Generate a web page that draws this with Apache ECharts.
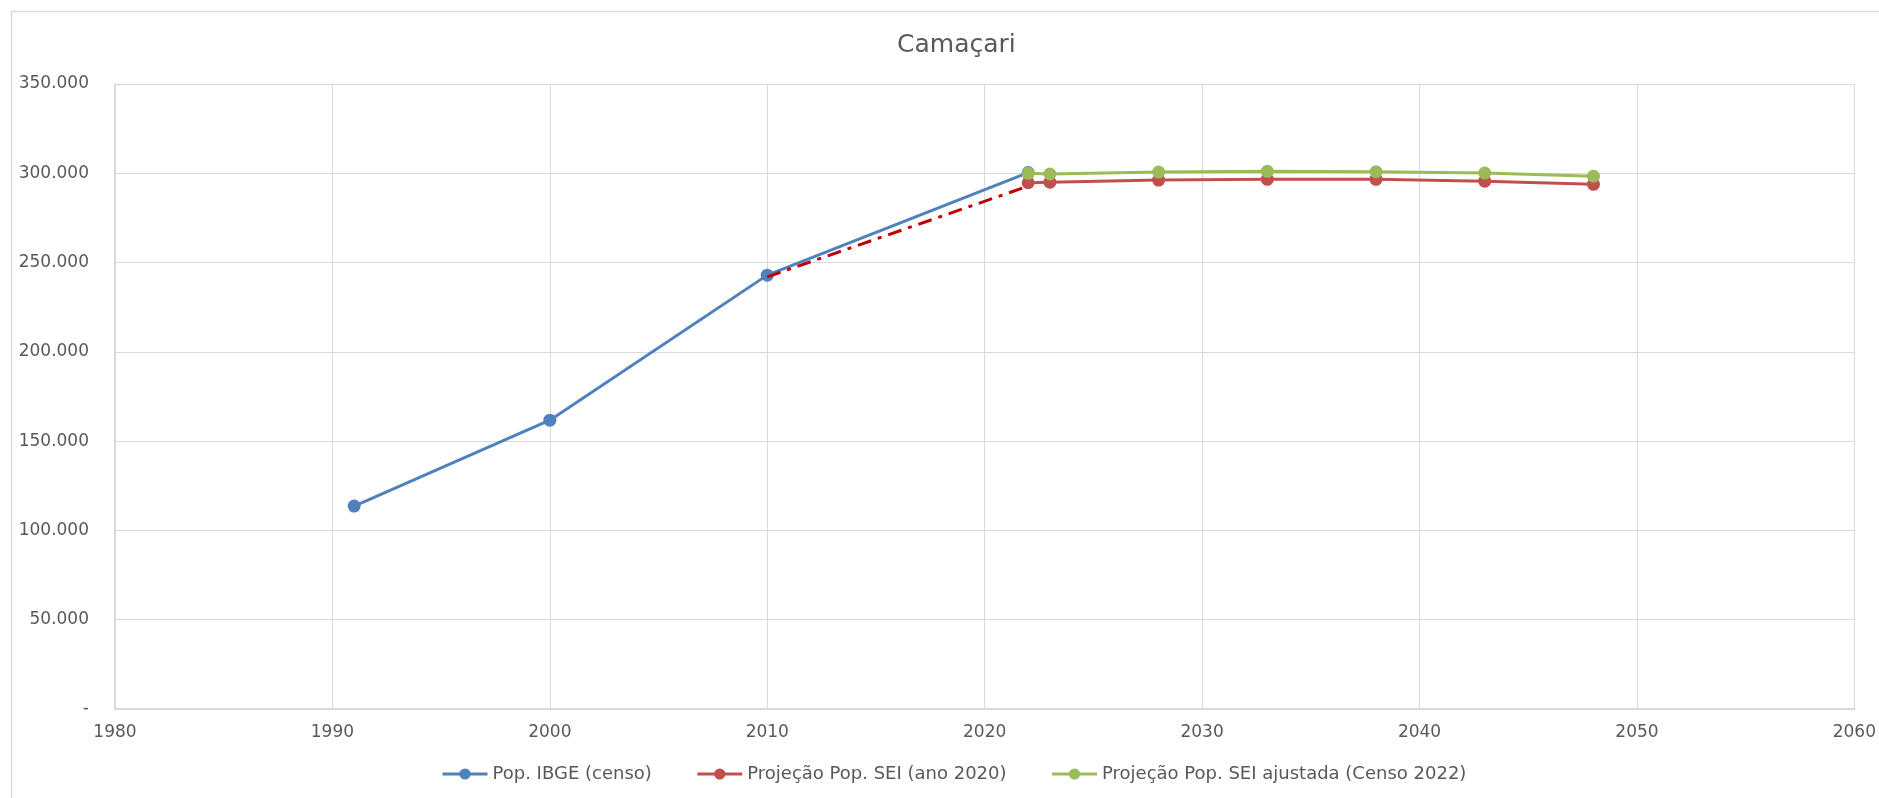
<!DOCTYPE html>
<html>
<head>
<meta charset="utf-8">
<script src="https://cdn.jsdelivr.net/npm/echarts@6/dist/echarts.min.js"></script>
<style>
html,body{margin:0;padding:0;background:#fff;}
#chart{width:1879px;height:798px;}
</style>
</head>
<body>
<div id="chart"></div>
<script>
// Data
const titleText = 'Camaçari';
const seriesNames = ['Pop. IBGE (censo)', 'Projeção Pop. SEI (ano 2020)', 'Projeção Pop. SEI ajustada (Censo 2022)'];
const ibgeYears = [1991, 2000, 2010, 2022];
const ibgeValues = [113639, 161727, 242970, 300372];
const seiYears = [2022, 2023, 2028, 2033, 2038, 2043, 2048];
const seiValues = [294700, 295000, 296200, 296600, 296600, 295600, 293800];
const adjYears = [2022, 2023, 2028, 2033, 2038, 2043, 2048];
const adjValues = [300000, 299600, 300700, 301100, 300900, 300100, 298400];
const trendYears = [2010, 2022];
const trendValues = [242000, 292800];
const xTicks = [1980, 1990, 2000, 2010, 2020, 2030, 2040, 2050, 2060];
const yMax = 350000;

const pair = (xs, ys) => xs.map((x, i) => [x, ys[i]]);
const font = '"DejaVu Sans", "Noto Sans", sans-serif';
const fmt = v => v === 0 ? '-' : String(v).replace(/\B(?=(\d{3})+(?!\d))/g, '.');

const chart = echarts.init(document.getElementById('chart'), null, {renderer: 'canvas'});
chart.setOption({
  animation: false,
  backgroundColor: '#fff',
  graphic: [{
    type: 'rect', left: 9, top: 9, silent: true, z: -1,
    shape: {width: 1900, height: 800},
    style: {fill: 'none', stroke: '#d9d9d9', lineWidth: 1.5}
  }],
  title: {
    text: titleText, left: 892, top: 28,
    textStyle: {fontFamily: font, fontSize: 25, fontWeight: 'normal', color: '#595959'}
  },
  grid: {left: 115, right: 14, top: 84, bottom: 89, containLabel: false},
  legend: {
    data: seriesNames,
    left: 441, top: 765, padding: 0,
    itemWidth: 45, itemHeight: 14, itemGap: 44,
    lineStyle: {width: 3},
    textStyle: {fontFamily: font, fontSize: 18, color: '#595959', padding: [0, 0, 0, 0]}
  },
  xAxis: {
    type: 'value', min: xTicks[0], max: xTicks[xTicks.length - 1], interval: 10,
    axisLine: {show: true, lineStyle: {color: '#d9d9d9', width: 2}},
    axisTick: {show: false},
    splitLine: {show: true, lineStyle: {color: '#d9d9d9', width: 1}},
    axisLabel: {fontFamily: font, fontSize: 17, color: '#595959', margin: 15, formatter: v => String(v)}
  },
  yAxis: {
    type: 'value', min: 0, max: yMax, interval: 50000,
    axisLine: {show: true, lineStyle: {color: '#d9d9d9', width: 2}},
    axisTick: {show: false},
    splitLine: {show: true, lineStyle: {color: '#d9d9d9', width: 1}},
    axisLabel: {fontFamily: font, fontSize: 17, color: '#595959', margin: 26, formatter: fmt}
  },
  series: [
    {
      name: seriesNames[0], type: 'line', data: pair(ibgeYears, ibgeValues),
      symbol: 'circle', symbolSize: 13, color: '#4F81BD',
      lineStyle: {width: 3, color: '#4F81BD'}, itemStyle: {color: '#4F81BD'}, z: 3
    },
    {
      name: 'trend', type: 'line', data: pair(trendYears, trendValues),
      symbol: 'none', color: '#C00000',
      lineStyle: {width: 3, color: '#C00000', type: [14, 7, 4, 7]}, z: 4
    },
    {
      name: seriesNames[1], type: 'line', data: pair(seiYears, seiValues),
      symbol: 'circle', symbolSize: 13, color: '#C0504D',
      lineStyle: {width: 3, color: '#C0504D'}, itemStyle: {color: '#C0504D'}, z: 5
    },
    {
      name: seriesNames[2], type: 'line', data: pair(adjYears, adjValues),
      symbol: 'circle', symbolSize: 13, color: '#9BBB59',
      lineStyle: {width: 3, color: '#9BBB59'}, itemStyle: {color: '#9BBB59'}, z: 6
    }
  ]
});
</script>
</body>
</html>
